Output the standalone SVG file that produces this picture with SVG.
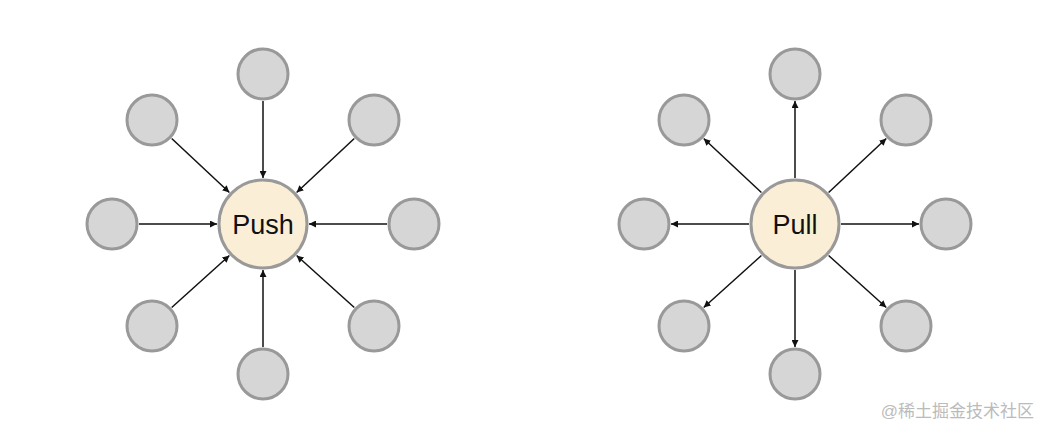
<svg xmlns="http://www.w3.org/2000/svg" width="1041" height="427" viewBox="0 0 1041 427">
<style>
.n{fill:#d6d6d6;stroke:#999;stroke-width:3}
.c{fill:#fbeed6;stroke:#999;stroke-width:3}
.e{stroke:#111;stroke-width:1.5;fill:none;marker-end:url(#a)}
.t{font-family:"Liberation Sans",Arial,sans-serif;font-size:27px;text-anchor:middle;fill:#111}
</style>
<defs><marker id="a" viewBox="0 0 10 10" refX="10" refY="5" markerWidth="7" markerHeight="7" markerUnits="userSpaceOnUse" orient="auto"><path d="M0,0L10,5L0,10z" fill="#111"/></marker></defs>
<rect width="1041" height="427" fill="#fff"/>
<g id="connectors">
<line class="e" x1="171.7" y1="138.5" x2="229.4" y2="192.5"/>
<line class="e" x1="354.3" y1="138.5" x2="296.6" y2="192.5"/>
<line class="e" x1="171.7" y1="307.5" x2="229.4" y2="255.5"/>
<line class="e" x1="354.3" y1="307.5" x2="296.6" y2="255.5"/>
<line class="e" x1="263" y1="101" x2="263" y2="178"/>
<line class="e" x1="263" y1="347" x2="263" y2="270"/>
<line class="e" x1="139" y1="224" x2="217" y2="224"/>
<line class="e" x1="387" y1="224" x2="309" y2="224"/>
<line class="e" x2="703.7" y2="138.5" x1="761.4" y1="192.5"/>
<line class="e" x2="886.3" y2="138.5" x1="828.6" y1="192.5"/>
<line class="e" x2="703.7" y2="307.5" x1="761.4" y1="255.5"/>
<line class="e" x2="886.3" y2="307.5" x1="828.6" y1="255.5"/>
<line class="e" x2="795" y2="101" x1="795" y1="178"/>
<line class="e" x2="795" y2="347" x1="795" y1="270"/>
<line class="e" x2="671" y2="224" x1="749" y1="224"/>
<line class="e" x2="919" y2="224" x1="841" y1="224"/>
</g>
<g id="push-t"><circle class="n" cx="263" cy="74" r="25"/></g>
<g id="push-b"><circle class="n" cx="263" cy="374" r="25"/></g>
<g id="push-l"><circle class="n" cx="112" cy="224" r="25"/></g>
<g id="push-r"><circle class="n" cx="414" cy="224" r="25"/></g>
<g id="push-tl"><circle class="n" cx="152" cy="120" r="25"/></g>
<g id="push-tr"><circle class="n" cx="374" cy="120" r="25"/></g>
<g id="push-bl"><circle class="n" cx="152" cy="326" r="25"/></g>
<g id="push-br"><circle class="n" cx="374" cy="326" r="25"/></g>
<g id="push"><circle class="c" cx="263" cy="224" r="44"/><text class="t" x="263" y="234">Push</text></g>
<g id="pull-t"><circle class="n" cx="795" cy="74" r="25"/></g>
<g id="pull-b"><circle class="n" cx="795" cy="374" r="25"/></g>
<g id="pull-l"><circle class="n" cx="644" cy="224" r="25"/></g>
<g id="pull-r"><circle class="n" cx="946" cy="224" r="25"/></g>
<g id="pull-tl"><circle class="n" cx="684" cy="120" r="25"/></g>
<g id="pull-tr"><circle class="n" cx="906" cy="120" r="25"/></g>
<g id="pull-bl"><circle class="n" cx="684" cy="326" r="25"/></g>
<g id="pull-br"><circle class="n" cx="906" cy="326" r="25"/></g>
<g id="pull"><circle class="c" cx="795" cy="224" r="44"/><text class="t" x="795" y="234">Pull</text></g>
<text x="1034" y="417" text-anchor="end" font-family="'Liberation Sans','Noto Sans CJK SC',sans-serif" font-size="17" fill="#bbb">@稀土掘金技术社区</text>
</svg>
